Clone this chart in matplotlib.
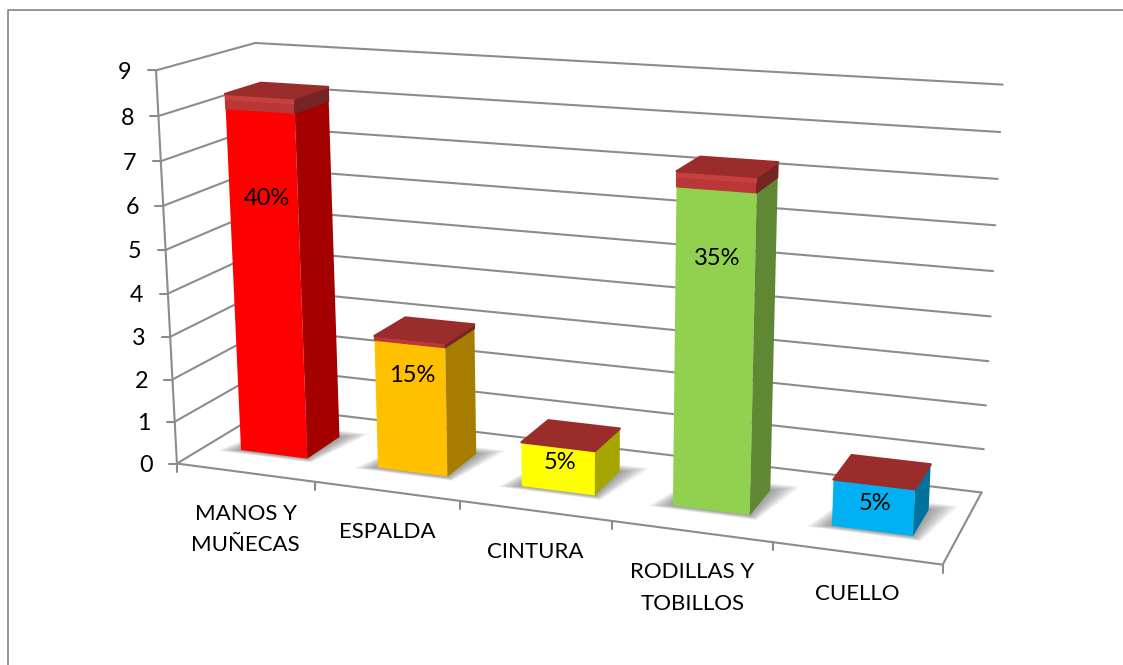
import numpy as np
import matplotlib
matplotlib.use("Agg")
import matplotlib.pyplot as plt
from matplotlib.patches import Polygon

# ---- data ----
categories = ["MANOS Y\nMUÑECAS", "ESPALDA", "CINTURA", "RODILLAS Y\nTOBILLOS", "CUELLO"]
values = [8, 3, 1, 7, 1]
percent_labels = ["40%", "15%", "5%", "35%", "5%"]
y_ticks = list(range(0, 10))
front_colors = ["#FF0000", "#FFC000", "#FFFF00", "#92D050", "#00B0F0"]
side_colors = ["#A50000", "#A67D00", "#A6A600", "#5F8734", "#00729C"]
cap_depth = [0.33, 0.10, 0.02, 0.33, 0.03]
label_height = [6.05, 2.3, 0.68, 5.58, 0.62]

# ---- camera calibration: (category pos, depth, value) -> pixel ----
calib_3d = [(0,0,0),(0,0,9),(0,1,0),(0,1,9),(5,1,0),(5,1,9),(5,0,0),
            (1,0,0),(2,0,0),(3,0,0),(4,0,0),
            (0,0,4),(5,1,4),(0,1,4)]
calib_px = [(178,463),(156,71),(270,409),(255,44),(981,492),(1003,85),(943,564),
            (315,482.7),(460,501),(612,521.7),(773,542.7),
            (167,292),(991,316),(264,247)]
A, b = [], []
for (X,D,V),(u,w) in zip(calib_3d, calib_px):
    A.append([X,D,V,1,0,0,0,0,-u*X,-u*D,-u*V]); b.append(u)
    A.append([0,0,0,0,X,D,V,1,-w*X,-w*D,-w*V]); b.append(w)
P = np.linalg.lstsq(np.array(A,float), np.array(b,float), rcond=None)[0]
P = np.append(P, 1.0).reshape(3,4)

def proj(x, d, v):
    q = P @ np.array([x, d, v, 1.0])
    return q[0]/q[2], q[1]/q[2]

GRID = "#8C8C8C"
plt.rcParams["font.family"] = ["Lato", "DejaVu Sans"]
fig = plt.figure(figsize=(11.23, 6.65), dpi=100, facecolor="white")
ax = fig.add_axes([0, 0, 1, 1])
ax.set_xlim(0, 1123); ax.set_ylim(665, 0); ax.axis("off")

def line(p, q, lw=1.5, color=GRID, z=2):
    ax.plot([p[0], q[0]], [p[1], q[1]], color=color, lw=lw, solid_capstyle="round", zorder=z)

def poly(pts, color, z, lw=0.0, alpha=None):
    ax.add_patch(Polygon(pts, closed=True, facecolor=color, edgecolor=color if lw else "none",
                         linewidth=lw, joinstyle="round", alpha=alpha, zorder=z))

# chart frame, clipped by the canvas on right and bottom
ax.plot([1123, 7.5, 7.5], [9.5, 9.5, 665], color="#8E8E8E", lw=1.3, zorder=1)

# walls and floor gridlines
for t in y_ticks:
    line(proj(0,0,t), proj(0,1,t))
    line(proj(0,1,t), proj(5,1,t))
    a = proj(0,0,t)
    line((a[0]-8, a[1]), a)
    ax.text(a[0]-31, a[1]+2, str(t), ha="center", va="center", fontsize=16.8, color="black", zorder=6)
line(proj(0,0,0), proj(0,0,9))
line(proj(0,0,0), proj(5,0,0))
line(proj(5,0,0), proj(5,1,0))
for i in range(6):
    a = proj(i,0,0)
    line(a, (a[0], a[1]+8))

# category labels
for i, c in enumerate(categories):
    a = proj(i+0.5, 0, 0)
    ax.text(a[0]+0.5, a[1]+31, c, ha="center", va="top", fontsize=16,
            linespacing=1.72, color="black", zorder=6)

# bars
X0, X1 = 0.26, 0.75
D0, D1 = 0.30, 0.67
for i, (val, fc, sc, cap) in enumerate(zip(values, front_colors, side_colors, cap_depth)):
    x0, x1 = i+X0, i+X1
    top = val + cap
    # soft floor shadow
    for k in range(14):
        e = (14-k)/14
        poly([proj(x0-0.14*e, D0-0.05*e, 0), proj(x1+0.06*e, D0-0.05*e, 0),
              proj(x1+0.16*e, D1+0.10*e, 0), proj(x0, D1+0.10*e, 0)], "#404040", 3, alpha=0.045)
    poly([proj(x0,D0,0), proj(x1,D0,0), proj(x1,D0,top), proj(x0,D0,top)], fc, 4)
    poly([proj(x1,D0,0), proj(x1,D1,0), proj(x1,D1,top), proj(x1,D0,top)], sc, 4)
    # cap: band on the front and side, then the top
    if cap > 0.05:
        poly([proj(x0,D0,val), proj(x1,D0,val), proj(x1,D0,top), proj(x0,D0,top)], "#B93737", 4.2, lw=0.8)
        poly([proj(x1,D0,val), proj(x1,D1,val), proj(x1,D1,top), proj(x1,D0,top)], "#752323", 4.2, lw=0.8)
        mid = val + cap*0.6
        poly([proj(x0,D0,mid), proj(x1,D0,mid), proj(x1,D0,top), proj(x0,D0,top)], "#C64040", 4.25)
    poly([proj(x0,D0,top), proj(x1,D0,top), proj(x1,D1,top), proj(x0,D1,top)], "#9A2D2C", 4.3, lw=1.6)
    a = proj((x0+x1)/2, D0, label_height[i])
    dx = 3.5 if i == 0 else 2
    ax.text(a[0]+dx, a[1]+1, percent_labels[i], ha="center", va="center", fontsize=17, color="black", zorder=6)

fig.savefig("out.png", dpi=100, facecolor="white")
